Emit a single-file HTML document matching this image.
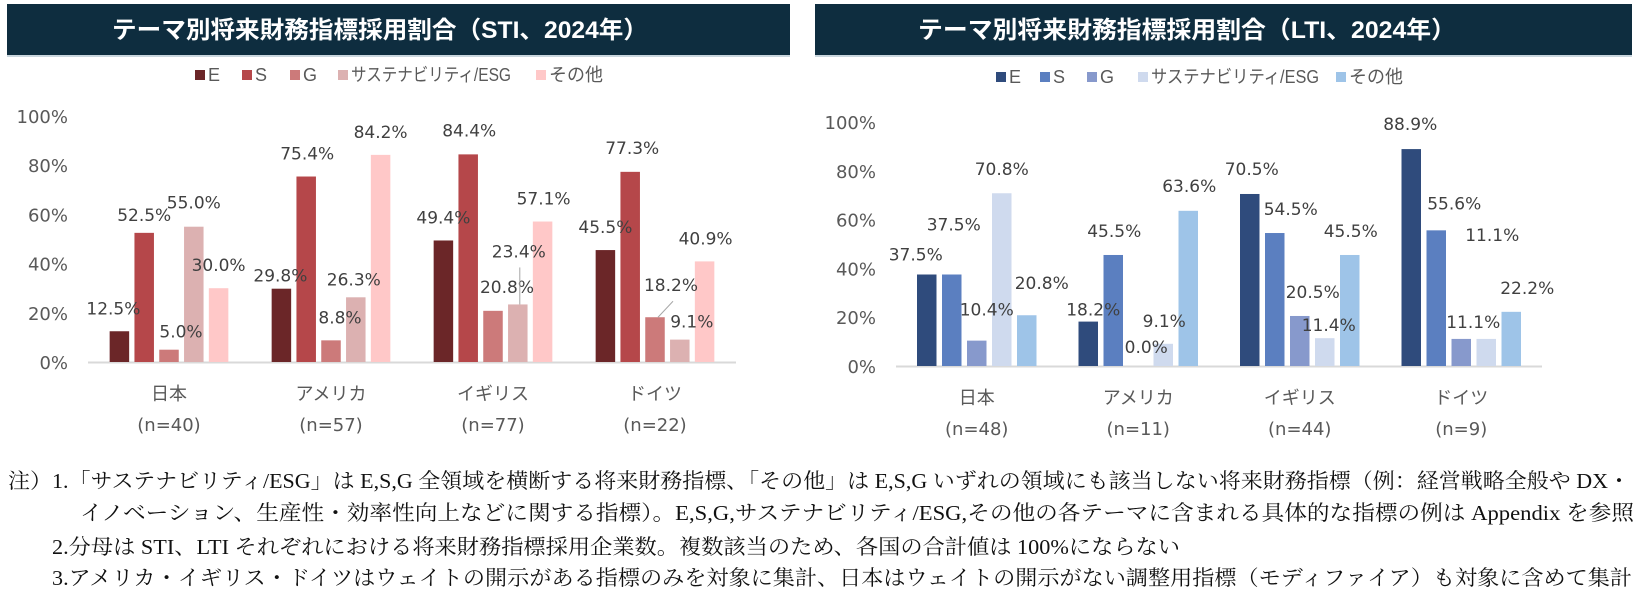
<!DOCTYPE html>
<html><head><meta charset="utf-8"><style>
html,body{margin:0;padding:0;background:#fff;width:1639px;height:601px;overflow:hidden}
svg{display:block}
.tick{font-family:"DejaVu Sans","Liberation Sans",sans-serif;font-size:18px;fill:#595959}
.dl{font-family:"DejaVu Sans","Liberation Sans",sans-serif;font-size:17px;fill:#404040}
.cat{font-family:"Liberation Sans","Noto Sans CJK JP",sans-serif;font-size:18px;fill:#595959}
.nl{font-family:"DejaVu Sans","Liberation Sans",sans-serif;font-size:18px;fill:#595959}
.lg{font-family:"Liberation Sans","Noto Sans CJK JP",sans-serif;font-size:18px;fill:#595959}
.ttl{font-family:"Liberation Sans","Noto Sans CJK JP",sans-serif;font-size:24px;font-weight:bold;fill:#fff}
.note{font-family:"Liberation Serif","Noto Serif CJK SC",serif;font-size:21px;fill:#111}
</style></head><body>
<svg id="root" width="1639" height="601" viewBox="0 0 1639 601" xmlns="http://www.w3.org/2000/svg">
  <g>
    <rect x="7" y="4" width="783" height="51" fill="#0e2d3f"/>
    <rect x="7" y="55" width="783" height="2" fill="#c9d6de"/>
    <text class="ttl" x="380" y="38" text-anchor="middle" textLength="536" lengthAdjust="spacingAndGlyphs">テーマ別将来財務指標採用割合（STI、2024年）</text>
  </g>
  <g>
    <rect x="815" y="4" width="817" height="51" fill="#0e2d3f"/>
    <rect x="815" y="55" width="817" height="2" fill="#c9d6de"/>
    <text class="ttl" x="1187" y="38" text-anchor="middle" textLength="538" lengthAdjust="spacingAndGlyphs">テーマ別将来財務指標採用割合（LTI、2024年）</text>
  </g>
  <g id="chartL"></g>
  <g id="chartR"></g>
  <g>
    <text class="note" x="8" y="488" textLength="1622" lengthAdjust="spacingAndGlyphs">注）1.「サステナビリティ/ESG」は E,S,G 全領域を横断する将来財務指標、「その他」は E,S,G いずれの領域にも該当しない将来財務指標（例：経営戦略全般や DX・</text>
    <text class="note" x="80" y="520" textLength="1554" lengthAdjust="spacingAndGlyphs">イノベーション、生産性・効率性向上などに関する指標）。E,S,G,サステナビリティ/ESG,その他の各テーマに含まれる具体的な指標の例は Appendix を参照</text>
    <text class="note" x="52" y="554" textLength="1128" lengthAdjust="spacingAndGlyphs">2.分母は STI、LTI それぞれにおける将来財務指標採用企業数。複数該当のため、各国の合計値は 100%にならない</text>
    <text class="note" x="52" y="585" textLength="1580" lengthAdjust="spacingAndGlyphs">3.アメリカ・イギリス・ドイツはウェイトの開示がある指標のみを対象に集計、日本はウェイトの開示がない調整用指標（モディファイア）も対象に含めて集計</text>
  </g>
</svg>
<script>
const categories = ["日本", "アメリカ", "イギリス", "ドイツ"];
const seriesNames = ["E", "S", "G", "サステナビリティ/ESG", "その他"];
const yTicks = [0, 20, 40, 60, 80, 100];
const stiN = ["(n=40)", "(n=57)", "(n=77)", "(n=22)"];
const ltiN = ["(n=48)", "(n=11)", "(n=44)", "(n=9)"];
// STI values by series (per country)
const stiE = [12.5, 29.8, 49.4, 45.5];
const stiS = [52.5, 75.4, 84.4, 77.3];
const stiG = [5.0, 8.8, 20.8, 18.2];
const stiESG = [55.0, 26.3, 23.4, 9.1];
const stiOther = [30.0, 84.2, 57.1, 40.9];
// LTI values by series
const ltiE = [37.5, 18.2, 70.5, 88.9];
const ltiS = [37.5, 45.5, 54.5, 55.6];
const ltiG = [10.4, 0.0, 20.5, 11.1];
const ltiESG = [70.8, 9.1, 11.4, 11.1];
const ltiOther = [20.8, 63.6, 45.5, 22.2];

const NS = "http://www.w3.org/2000/svg";
function mk(tag, attrs, parent){const e=document.createElementNS(NS,tag);for(const k in attrs)e.setAttribute(k,attrs[k]);parent.appendChild(e);return e;}

function drawChart(cfg){
  const g = document.getElementById(cfg.id);
  const yScale = v => cfg.y0 - v/100*cfg.ySpan;
  const groupW = (cfg.x1 - cfg.x0)/categories.length;
  const xGroup = i => cfg.x0 + groupW*(i+0.5);
  seriesNames.forEach((n,j)=>{
    const r = mk("rect",{x:cfg.legX[j],y:cfg.legY-5,width:10,height:10,fill:cfg.colors[j]},g);
    
    
    const t = mk("text",{class:"lg",x:cfg.legX[j]+13,y:cfg.legY+6},g);
    if (j===3){ t.setAttribute("textLength", cfg.esgLen); t.setAttribute("lengthAdjust","spacingAndGlyphs"); }
    t.textContent = n;
    
    
  });
  yTicks.forEach(v=>{
    const t = mk("text",{class:"tick",x:cfg.tickX,y:yScale(v)+7,"text-anchor":"end"},g);
    t.textContent = v+"%";
    
    
  });
  const ax = mk("line",{x1:cfg.x0,x2:cfg.x1,y1:cfg.y0+0.5,y2:cfg.y0+0.5,stroke:"#d9d9d9","stroke-width":2},g);
  
  
  const barLayer = mk("g",{},g);
  
  
  const labelLayer = mk("g",{},g);
  
  
  cfg.series.forEach((arr,j)=>{
    arr.forEach((v,i)=>{
      const cx = xGroup(i) + (j-2)*cfg.step;
      const top = yScale(v);
      const b = mk("rect",{x:cx-cfg.bw/2,y:top,width:cfg.bw,height:cfg.y0-top,fill:cfg.colors[j]},barLayer);
      
      
      const nd = cfg.nudge[i][j];
      const lx = cx+nd[0], ly = top-20+nd[1];
      if (cfg.leaders[i+"-"+j]){
        const L = cfg.leaders[i+"-"+j];
        const ln = mk("line",{x1:cx+L[0],y1:ly+L[1],x2:cx+L[2],y2:top,stroke:"#a6a6a6","stroke-width":1},labelLayer);
        
        
      }
      const t = mk("text",{class:"dl",x:lx,y:ly+6,"text-anchor":"middle"},labelLayer);
      t.textContent = v.toFixed(1)+"%";
      
      
    });
  });
  categories.forEach((c,i)=>{
    const t = mk("text",{class:"cat",x:xGroup(i),y:cfg.catY,"text-anchor":"middle"},g);
    t.textContent = c;
    
    
    const n = mk("text",{class:"nl",x:xGroup(i),y:cfg.catY+31,"text-anchor":"middle"},g);
    n.textContent = cfg.nLabels[i];
    
    
  });
}

drawChart({
  id:"chartL", x0:88, x1:736, y0:362, ySpan:246, bw:19.5, step:24.8, tickX:68, catY:400,
  legX:[195,242,290,338,536], legY:75, esgLen:160,
  colors:["#6b2628","#b5474a","#cc7a7a","#dcb1b1","#ffc8c8"],
  series:[stiE,stiS,stiG,stiESG,stiOther], nLabels:stiN,
  nudge:[
    [[-6,-3],[0,2],[12,2],[0,-4],[0,-3]],
    [[-1,7],[1,-3],[9,-3],[-2,2],[0,-3]],
    [[0,-3],[1,-4],[14,-4],[1,-33],[1,-3]],
    [[0,-3],[2,-4],[16,-12],[12,2],[1,-3]]
  ],
  leaders:{"2-3":[2,16,2],"3-2":[18,16,3]}
});
drawChart({
  id:"chartR", x0:896, x1:1542, y0:366, ySpan:244, bw:19.5, step:25, tickX:876, catY:404,
  legX:[996,1040,1087,1138,1336], legY:77, esgLen:168,
  colors:["#2f4b7c","#5b7fc0","#8799cc","#cfdaee","#9ec4e8"],
  series:[ltiE,ltiS,ltiG,ltiESG,ltiOther], nLabels:ltiN,
  nudge:[
    [[-11,0],[2,-30],[10,-11],[0,-4],[15,-12]],
    [[5,8],[1,-4],[8,1],[1,-3],[1,-5]],
    [[2,-5],[16,-4],[13,-4],[4,7],[1,-4]],
    [[-1,-5],[18,-7],[12,3],[6,-84],[16,-4]]
  ],
  leaders:{}
});
</script>
</body></html>
